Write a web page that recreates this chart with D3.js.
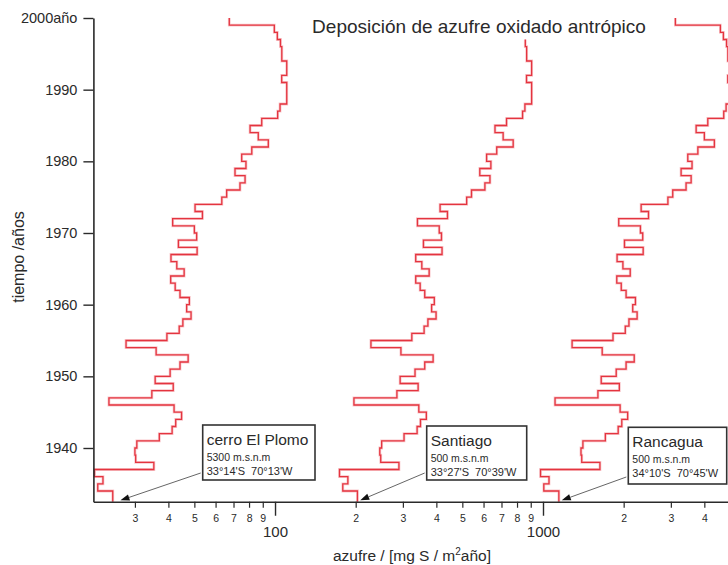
<!DOCTYPE html>
<html><head><meta charset="utf-8">
<script src="https://cdn.jsdelivr.net/npm/d3@7"></script>
<style>
body{margin:0;background:#fff}
svg{display:block}
text{font-family:"Liberation Sans",Arial,Helvetica,sans-serif;fill:#2a2a2a}
</style>
</head><body>
<svg id="c" width="728" height="565"></svg>
<script>
// ---- data (annual step values, interval [year, year+1]) ----
const years = [1933,1934,1935,1936,1937,1938,1939,1940,1941,1942,1943,1944,1945,1946,1947,1948,1949,1950,
  1951,1952,1953,1954,1955,1956,1957,1958,1959,1960,1961,1962,1963,1964,1965,1966,1967,1968,1969,1970,
  1971,1972,1973,1974,1975,1976,1977,1978,1979,1980,1981,1982,1983,1984,1985,1986,1987,1988,1989,1990,
  1991,1992,1993,1994,1995,1996,1997,1998,1999];
const plomo = [24.8,21.8,22.8,21.2,35.3,30.2,30.0,30.5,37.0,41.3,42.6,44.8,42.0,24.0,34.7,41.7,35.7,40.6,
  44.2,47.4,36.0,27.8,39.5,43.9,45.3,48.6,46.8,47.9,44.2,42.4,40.8,45.8,43.0,40.9,51.2,43.6,51.0,50.0,
  41.5,53.6,50.3,63.3,66.0,74.0,77.3,70.9,77.9,75.1,81.9,94.4,86.6,80.7,89.2,102.3,104.4,110.6,110.6,110.6,
  105.9,110.6,110.6,106.0,106.0,104.8,102.0,99.4,67.5];
const santiago = [203,179,187,174,290,248,246,250,303,339,349,367,344,197,285,342,293,333,
  362,389,295,228,324,360,372,399,384,393,362,348,335,376,353,335,420,358,418,410,
  340,440,413,519,541,607,634,581,639,616,672,774,710,662,731,839,856,907,907,907,
  868,907,907,869,869,859];
const rancagua = [1146,1007,1053,979,1631,1395,1386,1409,1709,1908,1968,2070,1940,1109,1603,1927,1649,1876,
  2042,2190,1663,1284,1825,2028,2093,2245,2162,2213,2042,1959,1885,2116,1987,1890,2365,2014,2356,2310,
  1917,2476,2324,2925,3049,3419,3571,3276,3599,3470,3784,4361,4001,3728,4121,4726,4823,5110,5110,5110,
  4893,5110,5110,4897,4897,4842,4712,4592,3119];

const yTicks = [1940,1950,1960,1970,1980,1990,2000];
const yTickLabels = ["1940","1950","1960","1970","1980","1990","2000año"];
const xMajor = [100,1000];
const xMajorLabels = ["100","1000"];
const xMinor = [30,40,50,60,70,80,90,200,300,400,500,600,700,800,900,2000,3000,4000,5000];
const xMinorLabels = ["3","4","5","6","7","8","9","2","3","4","5","6","7","8","9","2","3","4",""];

const titleText = "Deposición de azufre oxidado antrópico";
const sites = [
  {name:"cerro El Plomo", alt:"5300 m.s.n.m", coord:"33°14'S\u00a0 70°13'W", tip:[26.5,1932.7]},
  {name:"Santiago", alt:"500 m.s.n.m", coord:"33°27'S\u00a0 70°39'W", tip:[208,1932.7]},
  {name:"Rancagua", alt:"500 m.s.n.m", coord:"34°10'S\u00a0 70°45'W", tip:[1175,1932.7]}
];
// ---- layout ----
const boxes = [
  {x:202.7,y:425,w:112.3,h:55},
  {x:426.7,y:426,w:100,h:54},
  {x:628.3,y:427.3,w:98.4,h:56.7}
];
const yMin = 1932.5;

const svg = d3.select("#c");
const x = d3.scaleLog().domain([21,5000]).range([93.4,730.3]);
const y = d3.scaleLinear().domain([yMin,2000]).range([501.75,18]);
const axisColor = "#2a2a2a";

// step curves
function stepPoints(vals){
  const pts=[];
  vals.forEach((v,i)=>{
    const y0 = i===0 ? yMin : years[i];
    pts.push([v,y0],[v,years[i]+1]);
  });
  return pts;
}
const line = d3.line().x(d=>x(d[0])).y(d=>y(d[1]));
[plomo,santiago,rancagua].forEach(s=>{
  svg.append("path").attr("d",line(stepPoints(s)))
    .attr("fill","none").attr("stroke","#f9c8cc").attr("stroke-width",2.8).attr("stroke-linejoin","miter");
  svg.append("path").attr("d",line(stepPoints(s)))
    .attr("fill","none").attr("stroke","#e4343f").attr("stroke-width",1.3).attr("stroke-linejoin","miter");
});

// y axis
const gy = svg.append("g").attr("transform",`translate(${x(21)},0)`)
  .call(d3.axisLeft(y).tickValues(yTicks).tickFormat((d,i)=>yTickLabels[i]).tickSize(10).tickSizeOuter(0).tickPadding(6));
gy.select(".domain").attr("stroke",axisColor).attr("stroke-width",1.6);
gy.selectAll(".tick line").attr("stroke",axisColor).attr("stroke-width",1.4);
gy.selectAll(".tick text").style("font-size","14.5px").attr("fill",axisColor);

// x axis
const gx = svg.append("g").attr("transform",`translate(0,${y(yMin)})`)
  .call(d3.axisBottom(x).tickValues(xMinor).tickFormat((d,i)=>xMinorLabels[i]).tickSize(6).tickSizeOuter(0).tickPadding(7));
gx.select(".domain").attr("stroke",axisColor).attr("stroke-width",1.6);
gx.selectAll(".tick line").attr("stroke",axisColor).attr("stroke-width",1.2);
gx.selectAll(".tick text").style("font-size","10.5px").attr("fill","#3a3a3a");
const gx2 = svg.append("g").attr("transform",`translate(0,${y(yMin)})`)
  .call(d3.axisBottom(x).tickValues(xMajor).tickFormat((d,i)=>xMajorLabels[i]).tickSize(14).tickSizeOuter(0).tickPadding(11));
gx2.select(".domain").remove();
gx2.selectAll(".tick line").attr("stroke",axisColor).attr("stroke-width",1.4);
gx2.selectAll(".tick text").style("font-size","15px").attr("fill",axisColor);

// axis titles
const xt = svg.append("text").attr("x",412).attr("y",561).attr("text-anchor","middle").style("font-size","15.5px");
xt.append("tspan").text("azufre / [mg S / m");
xt.append("tspan").attr("dy",-6).style("font-size","10px").text("2");
xt.append("tspan").attr("dy",6).text("año]");
svg.append("text").attr("transform","translate(24,257) rotate(-90)").attr("text-anchor","middle")
  .style("font-size","16px").text("tiempo /años");

// title
svg.append("text").attr("x",479).attr("y",33).attr("text-anchor","middle").style("font-size","19px").text(titleText);

// annotation boxes and arrows
sites.forEach((s,i)=>{
  const b = boxes[i];
  const tx = x(s.tip[0]), ty = y(s.tip[1]);
  const sx = b.x-2, sy = b.y+b.h-7;
  const ang = Math.atan2(ty-sy, tx-sx);
  const hl = 9, hw = 3.2;
  const bx = tx - hl*Math.cos(ang), by = ty - hl*Math.sin(ang);
  svg.append("line").attr("x1",sx).attr("y1",sy).attr("x2",bx).attr("y2",by)
    .attr("stroke","#666").attr("stroke-width",1);
  svg.append("path").attr("d",`M${tx},${ty}L${bx - hw*Math.sin(ang)},${by + hw*Math.cos(ang)}L${bx + hw*Math.sin(ang)},${by - hw*Math.cos(ang)}Z`)
    .attr("fill","#111");
  svg.append("rect").attr("x",b.x).attr("y",b.y).attr("width",b.w).attr("height",b.h)
    .attr("fill","#fff").attr("stroke","#333").attr("stroke-width",1.6);
  svg.append("text").attr("x",b.x+4).attr("y",b.y+20).style("font-size","15.5px").text(s.name);
  svg.append("text").attr("x",b.x+4).attr("y",b.y+36).style("font-size","10.5px").attr("fill","#444").text(s.alt);
  svg.append("text").attr("x",b.x+4).attr("y",b.y+50).style("font-size","11px").attr("fill","#444").text(s.coord);
});
</script>
</body></html>
